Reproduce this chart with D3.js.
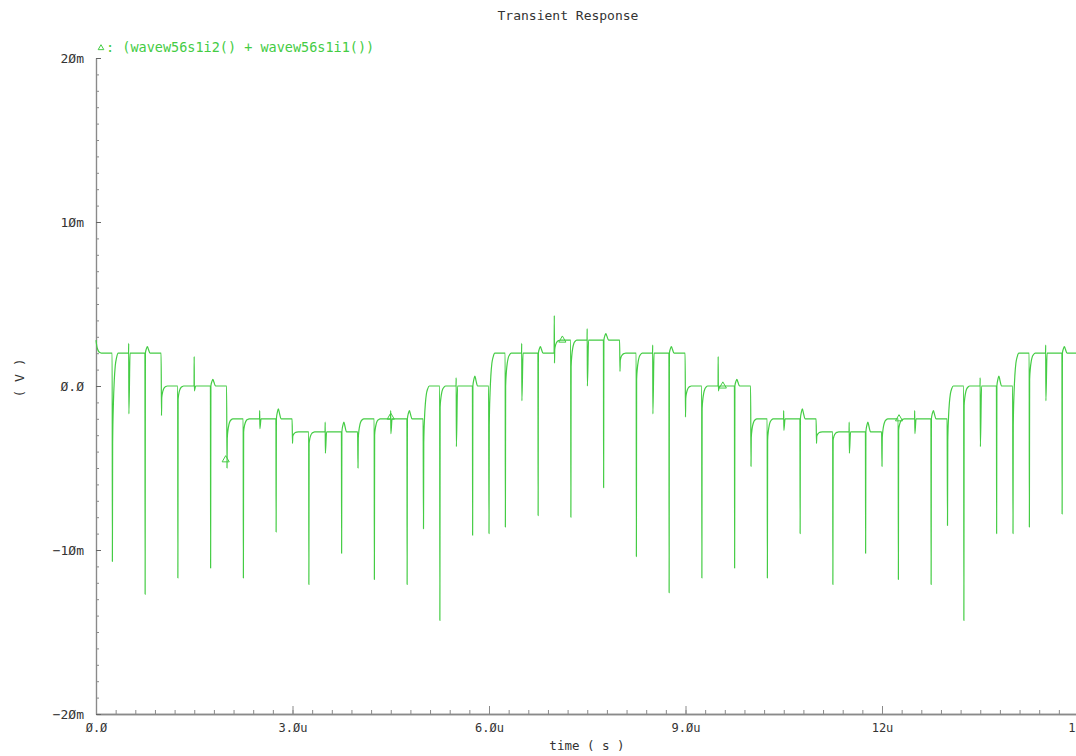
<!DOCTYPE html>
<html><head><meta charset="utf-8">
<script src="https://cdn.jsdelivr.net/npm/d3@7"></script>
<style>body{margin:0;background:#fff;} svg{display:block;}</style>
</head><body>
<svg id="chart" width="1076" height="756"></svg>
<script>
// ---------- text ----------
const titleText = "Transient Response";
const legendText = ": (wavew56s1i2() + wavew56s1i1())";
const xAxisTitle = "time ( s )";
const yAxisTitle = "( V )";
// ---------- ticks ----------
const xTickValues = [0, 3, 6, 9, 12, 15];              // µs
const xTickLabels = ["Ø.Ø", "3.Øu", "6.Øu", "9.Øu", "12u", "15u"];
const yTickValues = [20, 10, 0, -10, -20];             // mV
const yTickLabels = ["2Øm", "1Øm", "Ø.Ø", "−1Øm", "−2Øm"];
// ---------- waveform data (mV, time in µs) ----------
const stepStarts  = [0, 1, 2, 3, 4, 5, 6, 7, 8, 9, 10, 11, 12, 13, 14];
const stepLevels  = [2.0, 0.0, -2.0, -2.8, -2.0, 0.0, 2.0, 2.8, 2.0, 0.0, -2.0, -2.8, -2.0, 0.0, 2.0];
const startValue  = 2.8;
const transDip    = [null, -1.8, -5.0, -3.5, -5.0, -8.7, -9.0, 1.4, 0.9, -1.9, -4.9, -3.5, -4.9, -8.5, -9.0];
const transPeak   = [null, null, null, null, null, null, null, 4.3, null, null, null, null, null, null, null];
const spikeAMin   = [-10.7, -11.7, -11.7, -12.1, -11.8, -14.3, -8.6, -8.0, -10.4, -11.7, -11.7, -12.1, -11.8, -14.3, -8.6];
const spikeARec   = [-3.5, -0.8, -2.8, -3.5, -3.0, -1.3, 0.0, 1.2, 0.4, -1.4, -3.3, -3.3, -2.7, -1.2, 0.4];
const smallUp     = [2.6, 1.8, -1.5, -2.2, -1.5, 0.5, 2.6, 3.5, 2.5, 1.8, -1.5, -2.2, -1.5, 0.5, 2.5];
const smallDown   = [-1.7, -0.3, -2.6, -4.1, -2.9, -3.7, -0.9, 0.0, -1.7, -0.3, -2.7, -4.1, -2.9, -3.7, -0.9];
const spikeBMin   = [-12.7, -11.1, -8.9, -10.2, -12.1, -9.1, -7.9, -6.2, -12.6, -11.1, -9.0, -10.2, -12.1, -9.0, -7.8];
const spikeBBump  = [2.4, 0.4, -1.4, -2.2, -1.5, 0.6, 2.4, 3.2, 2.4, 0.4, -1.4, -2.2, -1.5, 0.6, 2.4];
const endTime     = 15;
const markerTimes  = [1.98, 4.5, 7.12, 9.57, 12.26];
const markerValues = [-4.5, -1.9, 2.8, 0.0, -2.0];

// ---------- layout ----------
const svg = d3.select("#chart");
const x = d3.scaleLinear().domain([0, 15]).range([96, 1078.5]);
const y = d3.scaleLinear().domain([-20, 20]).range([714, 58]);
const green = "#44cc44";
const axisCol = "#8a8a8a";
const textCol = "#333";
const mono = "'DejaVu Sans Mono', monospace";

// ---------- build path points ----------
const pts = [];
const decayT = [0, 0.012, 0.025, 0.04, 0.06, 0.085];
const decayF = [1, 0.55, 0.3, 0.14, 0.05, 0];
function pushDecay(t, from, to) { decayT.forEach((dt, k) => pts.push([t + dt, to + (from - to) * decayF[k]])); }

stepStarts.forEach((t0, i) => {
  const L = stepLevels[i];
  if (i === 0) {
    pushDecay(t0, startValue, L);
  } else {
    const P = stepLevels[i - 1];
    pts.push([t0 - 0.006, P]);
    if (transPeak[i] !== null) pts.push([t0 - 0.003, transPeak[i]]);
    pts.push([t0, transDip[i]]);
    pushDecay(t0 + 0.004, L - 0.4 * (L - transDip[i]), L);
  }
  const tA = t0 + 0.25;
  pts.push([tA - 0.003, L]);
  pts.push([tA, spikeAMin[i]]);
  pushDecay(tA + 0.004, spikeARec[i], L);
  const tS = t0 + 0.5;
  pts.push([tS - 0.003, L]);
  pts.push([tS - 0.001, smallUp[i]]);
  pts.push([tS + 0.002, smallDown[i]]);
  pts.push([tS + 0.02, L]);
  const tB = t0 + 0.75;
  const bump = spikeBBump[i];
  pts.push([tB - 0.003, L]);
  pts.push([tB, spikeBMin[i]]);
  pts.push([tB + 0.004, L]);
  pts.push([tB + 0.02, L + (bump - L) * 0.7]);
  pts.push([tB + 0.035, bump]);
  pts.push([tB + 0.05, L + (bump - L) * 0.6]);
  pts.push([tB + 0.075, L]);
  if (i === stepStarts.length - 1) pts.push([endTime, L]);
});

// ---------- axes ----------
const gx = svg.append("g").attr("transform", `translate(0,${y(-20)})`);
gx.call(d3.axisBottom(x).tickValues(d3.range(0, 51).map(k => k * 0.3)).tickSize(-4).tickSizeOuter(0).tickFormat(""));
gx.call(g => g.selectAll(".tick line").attr("stroke", axisCol));
const gxM = svg.append("g").attr("transform", `translate(0,${y(-20)})`);
gxM.call(d3.axisBottom(x).tickValues(xTickValues).tickSize(-8).tickSizeOuter(0).tickPadding(9)
  .tickFormat((d, i) => xTickLabels[i]));
[gx, gxM].forEach(g => g.select(".domain").attr("stroke", axisCol).attr("stroke-width", 1.5));
gxM.selectAll(".tick line").attr("stroke", axisCol);
gxM.selectAll("text").attr("font-family", mono).attr("font-size", 12).attr("fill", textCol);

const gy = svg.append("g").attr("transform", `translate(${x(0)},0)`);
gy.call(d3.axisLeft(y).tickValues(d3.range(-20, 21)).tickSize(-3).tickSizeOuter(0).tickFormat(""));
gy.selectAll(".tick line").attr("stroke", axisCol);
const gyM = svg.append("g").attr("transform", `translate(${x(0)},0)`);
gyM.call(d3.axisLeft(y).tickValues(yTickValues).tickSize(-5).tickSizeOuter(0).tickPadding(12)
  .tickFormat((d, i) => yTickLabels[i]));
[gy, gyM].forEach(g => g.select(".domain").attr("stroke", axisCol).attr("stroke-width", 1.2));
gyM.selectAll(".tick line").attr("stroke", "#666");
gyM.selectAll("text").attr("font-family", mono).attr("font-size", 13).attr("fill", textCol);

// ---------- waveform ----------
const line = d3.line().x(d => x(d[0])).y(d => y(d[1])).curve(d3.curveMonotoneX);
svg.append("path").datum(pts).attr("d", line)
  .attr("fill", "none").attr("stroke", green).attr("stroke-width", 1.2).attr("stroke-linejoin", "round");

const tri = d3.symbol().type(d3.symbolTriangle).size(22);
svg.selectAll(".mk").data(markerTimes).join("path").attr("class", "mk")
  .attr("d", tri).attr("transform", (d, i) => `translate(${x(d)},${y(markerValues[i])})`)
  .attr("fill", "none").attr("stroke", green).attr("stroke-width", 1);

// ---------- texts ----------
svg.append("text").attr("x", 568).attr("y", 20).attr("text-anchor", "middle")
  .attr("font-family", mono).attr("font-size", 13).attr("fill", textCol).text(titleText);
svg.append("path").attr("d", d3.symbol().type(d3.symbolTriangle).size(14))
  .attr("transform", "translate(101,48)").attr("fill", "none").attr("stroke", green).attr("stroke-width", 1);
svg.append("text").attr("x", 106).attr("y", 52)
  .attr("font-family", mono).attr("font-size", 13.5).attr("fill", green).text(legendText);
svg.append("text").attr("x", 587).attr("y", 750).attr("text-anchor", "middle")
  .attr("font-family", mono).attr("font-size", 12.5).attr("fill", textCol).text(xAxisTitle);
svg.append("text").attr("transform", "translate(24,378) rotate(-90)").attr("text-anchor", "middle")
  .attr("font-family", mono).attr("font-size", 13).attr("fill", textCol).text(yAxisTitle);
</script>
</body></html>
